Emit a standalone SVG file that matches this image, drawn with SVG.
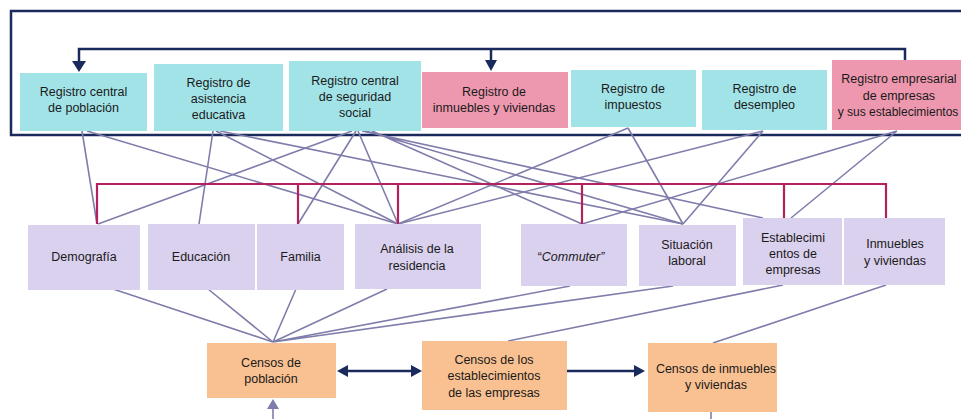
<svg xmlns="http://www.w3.org/2000/svg" width="961" height="419" viewBox="0 0 961 419">
<style>
text{font-family:"Liberation Sans",Arial,sans-serif;font-size:12.5px;fill:#1a1a1a;text-anchor:middle}
.reg{fill:#a2e3e8}
.pink{fill:#ee98b0}
.lav{fill:#dad1ef}
.cen{fill:#f9c191}
.pl{stroke:#7f7dab;stroke-width:1.6;fill:none}
.mg{stroke:#b5215e;stroke-width:2.2;fill:none}
.nv{stroke:#1b2a5c;stroke-width:2.5;fill:none}
.nvf{fill:#1b2a5c}
</style>
<rect width="961" height="419" fill="#ffffff"/>
<g id="connectors">
<path class="nv" d="M961,11 H11 V135 H961"/>
<path class="nv" d="M905,60 V49 H79 V62 M491,49 V61"/>
<polygon class="nvf" points="72,61 86,61 79,72"/>
<polygon class="nvf" points="485,60 497,60 491,71"/>
<g class="pl">
<path d="M82,131 L97,224 M87,131 L398,224"/>
<path d="M213,131 L199,224 M216,131 L398,224 M220,131 L683,224"/>
<path d="M352,131 L98,224 M356,131 L298,224 M358,131 L398,224 M372,131 L582,224 M366,131 L683,224 M362,131 L763,218"/>
<path d="M628,128 L398,224 M628,128 L683,224"/>
<path d="M763,131 L398,224 M763,131 L683,224"/>
<path d="M897,131 L582,224 M897,131 L791,218"/>
<path d="M113,289 L273,342 M208,289 L273,342 M296,289 L273,342 M387,289 L273,342 M570,286 L273,342 M673,286 L273,342"/>
<path d="M783,285 L508,341 M886,285 L713,343"/>
<path d="M273,408 V419 M711,412 V419"/>
</g>
<polygon fill="#7f7dab" points="273,399 267,409 279,409"/>
<path class="mg" d="M97,224 V184 H886 V218 M298,184 V224 M398,184 V224 M582,184 V224 M784,184 V218"/>
<path class="nv" d="M347,371 H412 M567,371 H635"/>
<polygon class="nvf" points="337,371 348,365 348,377"/>
<polygon class="nvf" points="422,371 411,365 411,377"/>
<polygon class="nvf" points="645,371 634,365 634,377"/>
</g>
<g id="reg-poblacion"><rect class="reg" x="20" y="73" width="127" height="58"/><text x="83.5" y="96">Registro central</text><text x="83.5" y="112">de población</text></g>
<g id="reg-educativa"><rect class="reg" x="154" y="64" width="129" height="67"/><text x="218.5" y="87">Registro de</text><text x="218.5" y="103">asistencia</text><text x="218.5" y="119">educativa</text></g>
<g id="reg-seguridad"><rect class="reg" x="289" y="61" width="132" height="70"/><text x="355" y="85">Registro central</text><text x="355" y="101">de seguridad</text><text x="355" y="117">social</text></g>
<g id="reg-inmuebles"><rect class="pink" x="422" y="72" width="146" height="56"/><text x="494" y="96">Registro de</text><text x="494" y="112">inmuebles y viviendas</text></g>
<g id="reg-impuestos"><rect class="reg" x="571" y="70" width="125" height="57"/><text x="633" y="93">Registro de</text><text x="633" y="109">impuestos</text></g>
<g id="reg-desempleo"><rect class="reg" x="702" y="70" width="125" height="60"/><text x="764.5" y="93">Registro de</text><text x="764.5" y="109">desempleo</text></g>
<g id="reg-empresarial"><rect class="pink" x="832" y="60" width="135" height="70"/><text x="899" y="83">Registro empresarial</text><text x="899" y="100">de empresas</text><text x="898" y="116" style="font-size:12px">y sus establecimientos</text></g>
<g id="demografia"><rect class="lav" x="28" y="225" width="112" height="65"/><text x="84" y="261">Demografía</text></g>
<g id="educacion"><rect class="lav" x="148" y="224" width="107" height="66"/><text x="201" y="261">Educación</text></g>
<g id="familia"><rect class="lav" x="257" y="224" width="87" height="66"/><text x="300.5" y="261">Familia</text></g>
<g id="residencia"><rect class="lav" x="355" y="224" width="126" height="65"/><text x="417" y="253">Análisis de la</text><text x="417" y="270">residencia</text></g>
<g id="commuter"><rect class="lav" x="521" y="224" width="106" height="62"/><text x="571" y="261">“<tspan font-style="italic">Commuter”</tspan></text></g>
<g id="situacion"><rect class="lav" x="639" y="225" width="97" height="61"/><text x="687" y="249">Situación</text><text x="687" y="265">laboral</text></g>
<g id="establecimientos"><rect class="lav" x="743" y="218" width="99" height="67"/><text x="793" y="242">Establecimi</text><text x="793" y="258">entos de</text><text x="793" y="274">empresas</text></g>
<g id="inmuebles"><rect class="lav" x="844" y="218" width="101" height="67"/><text x="895" y="248">Inmuebles</text><text x="895" y="265">y viviendas</text></g>
<g id="censo-poblacion"><rect class="cen" x="207" y="343" width="129" height="55"/><text x="271" y="367">Censos de</text><text x="271" y="383">población</text></g>
<g id="censo-establecimientos"><rect class="cen" x="422" y="341" width="145" height="69"/><text x="494" y="364">Censos de los</text><text x="494" y="380">establecimientos</text><text x="494" y="397">de las empresas</text></g>
<g id="censo-inmuebles"><rect class="cen" x="648" y="343" width="129" height="69"/><text x="716" y="373">Censos de inmuebles</text><text x="716" y="389">y viviendas</text></g>
</svg>
